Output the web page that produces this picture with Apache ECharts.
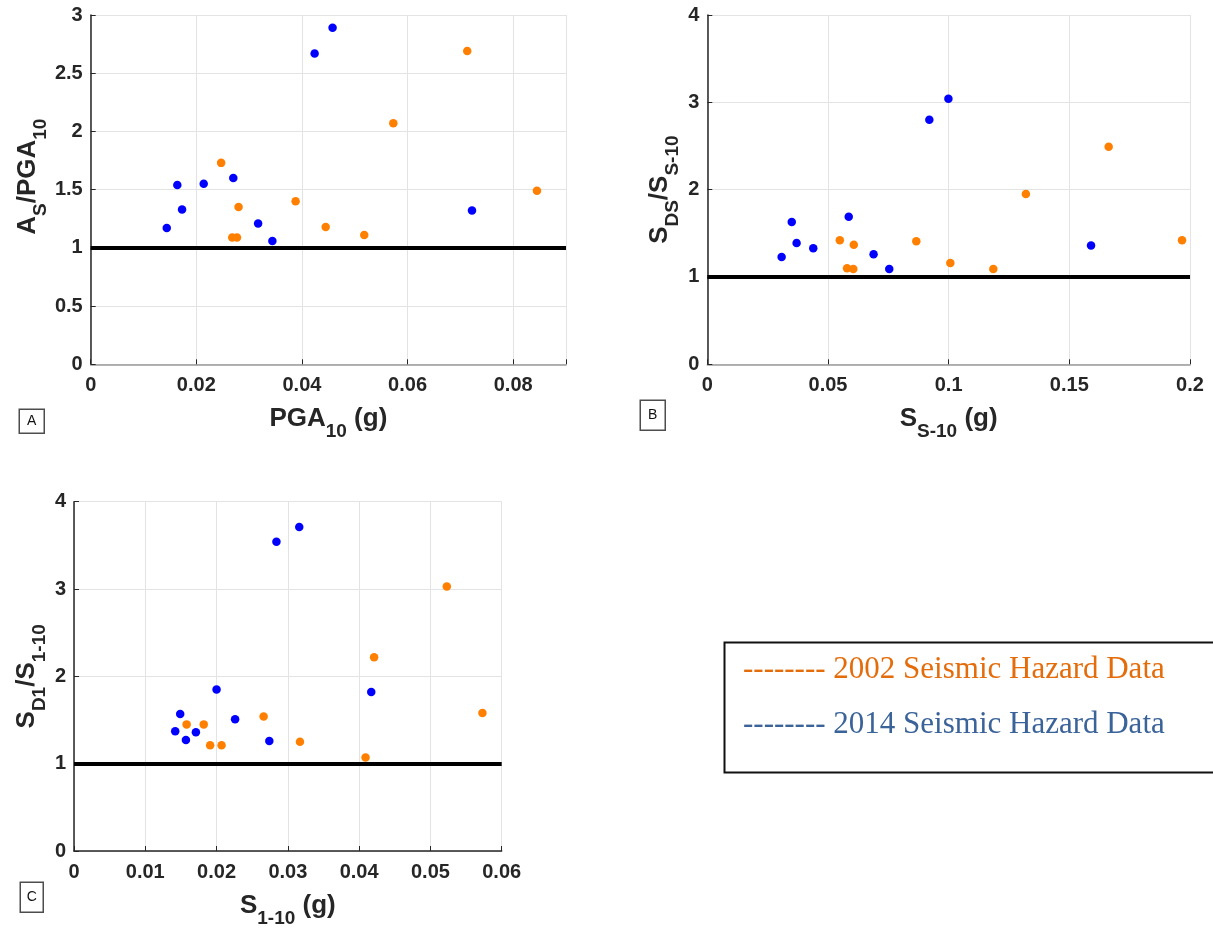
<!DOCTYPE html>
<html>
<head>
<meta charset="utf-8">
<style>
  html, body { margin: 0; padding: 0; background: #fff; }
  #chart { width: 1213px; height: 930px; }
</style>
<script src="https://cdn.jsdelivr.net/npm/echarts@6/dist/echarts.min.js"></script>
</head>
<body>
<div id="chart"></div>
<script>
// ---- data ----
const seriesNames = ['2002 Seismic Hazard Data', '2014 Seismic Hazard Data'];

// Panel A: A_S / PGA_10 against PGA_10 (g)
const pgaX2002 = [0.0247, 0.0268, 0.0277, 0.0280, 0.0388, 0.0445, 0.0518, 0.0573, 0.0713, 0.0845];
const pgaY2002 = [1.73, 1.09, 1.09, 1.35, 1.40, 1.18, 1.11, 2.07, 2.69, 1.49];
const pgaX2014 = [0.0144, 0.0164, 0.0173, 0.0214, 0.0270, 0.0317, 0.0344, 0.0424, 0.0458, 0.0722];
const pgaY2014 = [1.17, 1.54, 1.33, 1.55, 1.60, 1.21, 1.06, 2.67, 2.89, 1.32];

// Panel B: S_DS / S_S-10 against S_S-10 (g)
const ssX2002 = [0.0549, 0.0579, 0.0605, 0.0607, 0.0866, 0.1007, 0.1185, 0.1320, 0.1663, 0.1967];
const ssY2002 = [1.42, 1.10, 1.09, 1.37, 1.41, 1.16, 1.09, 1.95, 2.49, 1.42];
const ssX2014 = [0.0308, 0.0350, 0.0370, 0.0439, 0.0586, 0.0689, 0.0754, 0.0920, 0.0999, 0.1590];
const ssY2014 = [1.23, 1.63, 1.39, 1.33, 1.69, 1.26, 1.09, 2.80, 3.04, 1.36];

// Panel C: S_D1 / S_1-10 against S_1-10 (g)
const s1X2002 = [0.0158, 0.0182, 0.0191, 0.0207, 0.0266, 0.0317, 0.0409, 0.0421, 0.0523, 0.0573];
const s1Y2002 = [1.45, 1.45, 1.21, 1.21, 1.54, 1.25, 1.07, 2.22, 3.03, 1.58];
const s1X2014 = [0.0142, 0.0149, 0.0157, 0.0171, 0.0200, 0.0226, 0.0274, 0.0284, 0.0316, 0.0417];
const s1Y2014 = [1.37, 1.57, 1.27, 1.36, 1.85, 1.51, 1.26, 3.54, 3.71, 1.82];

// Tick values and axis extents
const ticksAX = [0, 0.02, 0.04, 0.06, 0.08];  const maxAX = 0.09;
const ticksAY = [0, 0.5, 1, 1.5, 2, 2.5, 3];
const ticksBX = [0, 0.05, 0.1, 0.15, 0.2];
const ticksBY = [0, 1, 2, 3, 4];
const ticksCX = [0, 0.01, 0.02, 0.03, 0.04, 0.05, 0.06];
const ticksCY = [0, 1, 2, 3, 4];

const referenceRatio = 1;   // ratio = 1 reference line

// ---- styling ----
const FONT = "'Liberation Sans', Arial, Helvetica, sans-serif";
const SERIF = "'Liberation Serif', 'Times New Roman', serif";
const ORANGE = '#ff8000';
const BLUE = '#0000ff';
const INK = '#262626';

// axis titles: main text plus dropped subscripts
const nameRich = {
  m: { fontSize: 26, fontWeight: 'bold', fontFamily: FONT, color: INK, lineHeight: 45 },
  s: { fontSize: 19, fontWeight: 'bold', fontFamily: FONT, color: INK, lineHeight: 12, verticalAlign: 'bottom' }
};

const zip = (xs, ys) => xs.map((x, i) => [x, ys[i]]);
const tickFormatter = ticks => v => ticks.some(t => Math.abs(t - v) < 1e-9) ? String(+v.toFixed(4)) : '';

function valueAxis(ticks, max, extra, lineColor, labelMargin) {
  return Object.assign({
    type: 'value',
    min: ticks[0],
    max: max,
    interval: ticks[1] - ticks[0],
    nameLocation: 'middle',
    nameTextStyle: { rich: nameRich },
    axisLine: { show: true, onZero: false, lineStyle: { color: lineColor, width: 1.5 } },
    axisTick: { show: true, inside: true, length: 5, lineStyle: { color: INK } },
    splitLine: { show: true, lineStyle: { color: '#e3e3e3', width: 1 } },
    axisLabel: {
      fontSize: 20, fontWeight: 'bold', fontFamily: FONT, color: INK, margin: labelMargin,
      formatter: tickFormatter(ticks)
    }
  }, extra);
}

const grids = [
  { left: 90.7, top: 15, width: 475.3, height: 349.3 },
  { left: 707.3, top: 15, width: 482.7, height: 349.3 },
  { left: 74, top: 501.7, width: 427.7, height: 349.3 }
];

const xAxes = [
  valueAxis(ticksAX, maxAX, { gridIndex: 0, name: '{m|PGA}{s|10}{m| (g)}', nameGap: 32 }, '#9a9a9a', 11),
  valueAxis(ticksBX, ticksBX[ticksBX.length - 1], { gridIndex: 1, name: '{m|S}{s|S-10}{m| (g)}', nameGap: 32 }, '#9a9a9a', 11),
  valueAxis(ticksCX, ticksCX[ticksCX.length - 1], { gridIndex: 2, name: '{m|S}{s|1-10}{m| (g)}', nameGap: 32 }, INK, 11)
];

const yAxes = [
  valueAxis(ticksAY, ticksAY[ticksAY.length - 1], {
    gridIndex: 0, name: '{m|A}{s|S}{m|/PGA}{s|10}', nameGap: 40, nameRotate: 90,
    nameTextStyle: { rich: nameRich, padding: [0, 0, 0, 26] }
  }, INK, 8),
  valueAxis(ticksBY, ticksBY[ticksBY.length - 1], { gridIndex: 1, name: '{m|S}{s|DS}{m|/S}{s|S-10}', nameGap: 25, nameRotate: 90 }, INK, 8),
  valueAxis(ticksCY, ticksCY[ticksCY.length - 1], { gridIndex: 2, name: '{m|S}{s|D1}{m|/S}{s|1-10}', nameGap: 25, nameRotate: 90 }, INK, 8)
];

const refLine = {
  silent: true,
  symbol: ['none', 'none'],
  label: { show: false },
  lineStyle: { color: '#000', width: 4, type: 'solid', opacity: 1 },
  data: [{ yAxis: referenceRatio }]
};

function scatter(name, color, idx, xs, ys, withRef) {
  const s = {
    type: 'scatter',
    name: name,
    xAxisIndex: idx,
    yAxisIndex: idx,
    symbol: 'circle',
    symbolSize: 8.5,
    itemStyle: { color: color, opacity: 1 },
    emphasis: { disabled: true },
    data: zip(xs, ys)
  };
  if (withRef) s.markLine = refLine;
  return s;
}

const series = [
  scatter(seriesNames[1], BLUE, 0, pgaX2014, pgaY2014, true),
  scatter(seriesNames[0], ORANGE, 0, pgaX2002, pgaY2002, false),
  scatter(seriesNames[1], BLUE, 1, ssX2014, ssY2014, true),
  scatter(seriesNames[0], ORANGE, 1, ssX2002, ssY2002, false),
  scatter(seriesNames[1], BLUE, 2, s1X2014, s1Y2014, true),
  scatter(seriesNames[0], ORANGE, 2, s1X2002, s1Y2002, false)
];

// small boxed panel tags
function panelTag(letter, x, y, w, h) {
  return {
    type: 'group', left: x, top: y,
    children: [
      { type: 'rect', shape: { x: 0, y: 0, width: w, height: h },
        style: { fill: '#fff', stroke: '#4d4d4d', lineWidth: 1.5 } },
      { type: 'text', x: w / 2, y: h / 2,
        style: { text: letter, fontSize: 14, fontFamily: FONT, fill: '#111', align: 'center', verticalAlign: 'middle' } }
    ]
  };
}

const option = {
  animation: false,
  backgroundColor: '#fff',
  grid: grids,
  xAxis: xAxes,
  yAxis: yAxes,
  series: series,
  legend: {
    orient: 'vertical',
    left: 738,
    top: 654,
    padding: 0,
    itemWidth: 0,
    itemHeight: 0,
    itemGap: 24,
    selectedMode: false,
    formatter: n => '-------- ' + n,
    textStyle: { fontFamily: SERIF, fontSize: 31, lineHeight: 31 },
    data: [
      { name: seriesNames[0], textStyle: { color: '#e46c0a' } },
      { name: seriesNames[1], textStyle: { color: '#3a6399' } }
    ]
  },
  graphic: [
    { type: 'rect', left: 722, top: 640, shape: { x: 0, y: 0, width: 490, height: 130 },
      style: { fill: 'none', stroke: '#111', lineWidth: 2 }, z: 10 },
    panelTag('A', 18.5, 408.5, 25, 24),
    panelTag('B', 639.5, 399.5, 25, 30),
    panelTag('C', 19.5, 881.5, 23, 30)
  ]
};

const chart = echarts.init(document.getElementById('chart'), null, { renderer: 'canvas' });
chart.setOption(option);
</script>
</body>
</html>
